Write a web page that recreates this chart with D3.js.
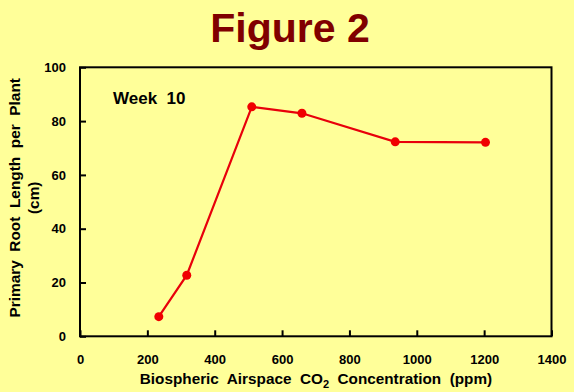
<!doctype html>
<html>
<head>
  <meta charset='utf-8'>
  <style>
    body { margin: 0; background: #ffff99; }
    text { font-family: 'Liberation Sans', Arial, sans-serif; font-weight: bold; }
  </style>
</head>
<body>
  <svg width='574' height='392'></svg>
  <script src='https://d3js.org/d3.v7.min.js'></script>
  <script>
    // values
    var co2 = [234, 317, 510, 659, 936, 1204];
    var rootLength = [7.3, 22.7, 85.3, 82.9, 72.3, 72.1];
    var xTicks = [0, 200, 400, 600, 800, 1000, 1200, 1400];
    var yTicks = [0, 20, 40, 60, 80, 100];

    var svg = d3.select('svg');
    svg.append('rect').attr('width', 574).attr('height', 392).attr('fill', '#ffff99');

    var x = d3.scaleLinear().domain([0, 1400]).range([80, 551.5]);
    var y = d3.scaleLinear().domain([0, 100]).range([336.3, 67.3]);

    svg.append('text')
       .attr('x', 290).attr('y', 42)
       .attr('text-anchor', 'middle')
       .attr('font-size', 41)
       .attr('fill', '#800000')
       .text('Figure 2');

    // plot frame
    svg.append('rect')
       .attr('x', x(0)).attr('y', y(100))
       .attr('width', x(1400) - x(0)).attr('height', y(0) - y(100))
       .attr('fill', 'none').attr('stroke', '#000').attr('stroke-width', 2);

    var xAxis = svg.append('g')
       .attr('transform', 'translate(0,' + y(0) + ')')
       .call(d3.axisBottom(x).tickValues(xTicks).tickFormat(d3.format('d'))
               .tickSizeInner(-6).tickSizeOuter(0).tickPadding(18));
    var yAxis = svg.append('g')
       .attr('transform', 'translate(' + x(0) + ',0)')
       .call(d3.axisLeft(y).tickValues(yTicks).tickFormat(d3.format('d'))
               .tickSizeInner(-6).tickSizeOuter(0).tickPadding(14));

    [xAxis, yAxis].forEach(function(a) {
      a.select('.domain').remove();
      a.selectAll('line').attr('stroke', '#000').attr('stroke-width', 2);
      a.selectAll('text').attr('font-size', 13).attr('font-family', null).attr('fill', '#000');
    });

    var line = d3.line()
                 .x(function(d) { return x(d[0]); })
                 .y(function(d) { return y(d[1]); });
    var pts = co2.map(function(c, i) { return [c, rootLength[i]]; });

    svg.append('path')
       .datum(pts)
       .attr('d', line)
       .attr('fill', 'none')
       .attr('stroke', '#e8000b')
       .attr('stroke-width', 2.2);

    svg.selectAll('.dot')
       .data(pts)
       .enter().append('circle')
       .attr('cx', function(d) { return x(d[0]); })
       .attr('cy', function(d) { return y(d[1]); })
       .attr('r', 4.5)
       .attr('fill', '#f00000');

    svg.append('text')
       .attr('x', 113).attr('y', 104)
       .attr('font-size', 17)
       .style('white-space', 'pre')
       .text('Week  10');

    svg.append('text')
       .attr('x', 316).attr('y', 384)
       .attr('text-anchor', 'middle')
       .attr('font-size', 15.3)
       .style('white-space', 'pre')
       .html('Biospheric  Airspace  CO<tspan font-size="11" dy="4">2</tspan><tspan dy="-4">  Concentration  (ppm)</tspan>');

    var yl = svg.append('text')
       .attr('transform', 'translate(20,' + ((y(0) + y(100)) / 2 - 4) + ') rotate(-90)')
       .attr('text-anchor', 'middle')
       .attr('font-size', 15.4)
       .style('white-space', 'pre');
    yl.append('tspan').attr('x', 0).attr('y', 0).text('Primary  Root  Length  per  Plant');
    yl.append('tspan').attr('x', 0).attr('y', 18.5).text('(cm)');
  </script>
</body>
</html>
